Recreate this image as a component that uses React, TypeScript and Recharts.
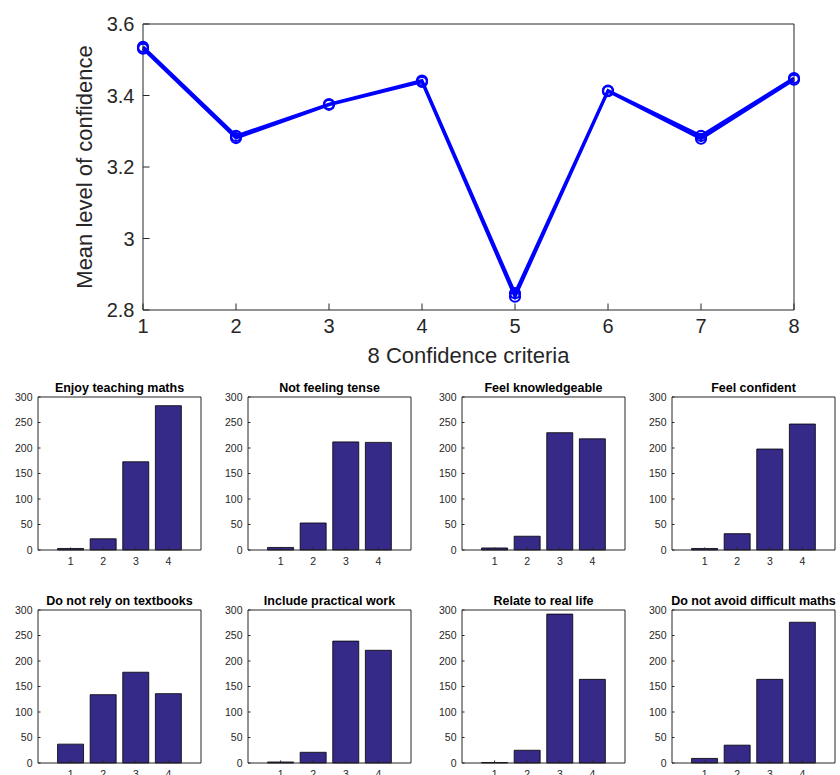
import React from 'react';
import { LineChart, Line, BarChart, Bar, XAxis, YAxis } from 'recharts';

// top panel: mean confidence per criterion (two nearly identical runs drawn over each other)
const criteria = [1, 2, 3, 4, 5, 6, 7, 8];
const meanRunA = [3.536, 3.287, 3.376, 3.442, 2.847, 3.414, 3.287, 3.449];
const meanRunB = [3.531, 3.281, 3.374, 3.438, 2.837, 3.412, 3.279, 3.444];
const meanTicks = [2.8, 3, 3.2, 3.4, 3.6];

// bottom panels: counts per response level
const levels = ['1', '2', '3', '4'];
const countTicks = [0, 50, 100, 150, 200, 250, 300];
const panelTitles = [
  'Enjoy teaching maths',
  'Not feeling tense',
  'Feel knowledgeable',
  'Feel confident',
  'Do not rely on textbooks',
  'Include practical work',
  'Relate to real life',
  'Do not avoid difficult maths',
];
const enjoyTeaching = [3, 22, 173, 283];
const notTense = [5, 53, 212, 211];
const knowledgeable = [4, 27, 230, 218];
const confident = [3, 32, 198, 247];
const notTextbooks = [37, 134, 178, 136];
const practicalWork = [2, 21, 239, 221];
const realLife = [1, 25, 292, 164];
const difficultMaths = [9, 35, 164, 276];
const panelCounts = [
  enjoyTeaching, notTense, knowledgeable, confident,
  notTextbooks, practicalWork, realLife, difficultMaths,
];

const AXIS = '#262626';
const FONT = '"Liberation Sans", Arial, Helvetica, sans-serif';

const fmtMean = (v: number) => String(Number(v.toFixed(1)));

const MeanChart = () => {
  const data = criteria.map((c, i) => ({ criterion: c, runA: meanRunA[i], runB: meanRunB[i] }));
  const tick = { fill: AXIS, fontSize: 20 };
  return (
    <LineChart width={840} height={380} data={data} margin={{ top: 23, right: 45, bottom: 40, left: 25 }}>
      <XAxis
        xAxisId="bottom"
        dataKey="criterion"
        type="number"
        domain={[1, 8]}
        ticks={criteria}
        height={30}
        stroke={AXIS}
        tickSize={-6.5}
        tickMargin={15}
        tick={tick}
        label={{ value: '8 Confidence criteria', position: 'bottom', offset: 7, fill: AXIS, fontSize: 22 }}
      />
      <XAxis
        xAxisId="top"
        orientation="top"
        type="number"
        domain={[1, 8]}
        ticks={criteria}
        height={1}
        stroke={AXIS}
        tickSize={-6.5}
        tick={false}
      />
      <YAxis
        yAxisId="left"
        type="number"
        domain={[2.8, 3.6]}
        ticks={meanTicks}
        width={118}
        stroke={AXIS}
        tickSize={-6.5}
        tickMargin={15}
        tick={tick}
        tickFormatter={fmtMean}
        label={{ value: 'Mean level of confidence', angle: -90, position: 'center', fill: AXIS, fontSize: 22 }}
      />
      <YAxis
        yAxisId="right"
        orientation="right"
        type="number"
        domain={[2.8, 3.6]}
        ticks={meanTicks}
        width={1}
        stroke={AXIS}
        tickSize={-6.5}
        tick={false}
      />
      <Line
        xAxisId="bottom"
        yAxisId="left"
        dataKey="runA"
        type="linear"
        stroke="#0000ff"
        strokeWidth={3}
        dot={{ r: 5, stroke: '#0000ff', strokeWidth: 2.2, fill: 'none' }}
        isAnimationActive={false}
      />
      <Line
        xAxisId="bottom"
        yAxisId="left"
        dataKey="runB"
        type="linear"
        stroke="#0000ff"
        strokeWidth={3}
        dot={{ r: 5, stroke: '#0000ff', strokeWidth: 2.2, fill: 'none' }}
        isAnimationActive={false}
      />
    </LineChart>
  );
};

interface PanelProps {
  title: string;
  counts: number[];
  left: number;
  top: number;
}

const CountPanel = ({ title, counts, left, top }: PanelProps) => {
  const data = levels.map((level, i) => ({ level, count: counts[i] }));
  const tick = { fill: AXIS, fontSize: 10.5 };
  return (
    <div style={{ position: 'absolute', left, top }}>
      <BarChart width={206} height={203} data={data} margin={{ top: 29, right: 4, bottom: 0, left: 0 }} barCategoryGap="10%">
        <XAxis
          xAxisId="bottom"
          dataKey="level"
          padding={{ left: 16.3, right: 16.3 }}
          height={20}
          interval={0}
          stroke={AXIS}
          tickSize={-2.5}
          tickMargin={10}
          tick={tick}
        />
        <XAxis
          xAxisId="top"
          orientation="top"
          dataKey="level"
          padding={{ left: 16.3, right: 16.3 }}
          height={1}
          interval={0}
          stroke={AXIS}
          tickSize={-2.5}
          tick={false}
          label={{ value: title, position: 'top', offset: 4, fill: '#000', fontSize: 12.5, fontWeight: 'bold' }}
        />
        <YAxis
          yAxisId="left"
          type="number"
          domain={[0, 300]}
          ticks={countTicks}
          width={38}
          stroke={AXIS}
          tickSize={-2.5}
          tickMargin={8}
          tick={tick}
        />
        <YAxis
          yAxisId="right"
          orientation="right"
          type="number"
          domain={[0, 300]}
          ticks={countTicks}
          width={1}
          stroke={AXIS}
          tickSize={-2.5}
          tick={false}
        />
        <Bar
          xAxisId="bottom"
          yAxisId="left"
          dataKey="count"
          fill="#352a87"
          stroke="#000"
          strokeWidth={0.8}
          isAnimationActive={false}
        />
      </BarChart>
    </div>
  );
};

const panelLefts = [38, 248, 462, 672];
const panelTops = [397, 610];

export default function App() {
  return (
    <div style={{ position: 'absolute', left: 0, top: 0, width: 840, height: 775, overflow: 'hidden', background: '#fff', fontFamily: FONT }}>
      <div style={{ position: 'absolute', left: 0, top: 0 }}>
        <MeanChart />
      </div>
      {panelTitles.map((title, i) => (
        <CountPanel
          key={title}
          title={title}
          counts={panelCounts[i]}
          left={panelLefts[i % 4] - 38}
          top={panelTops[Math.floor(i / 4)] - 30}
        />
      ))}
    </div>
  );
}
